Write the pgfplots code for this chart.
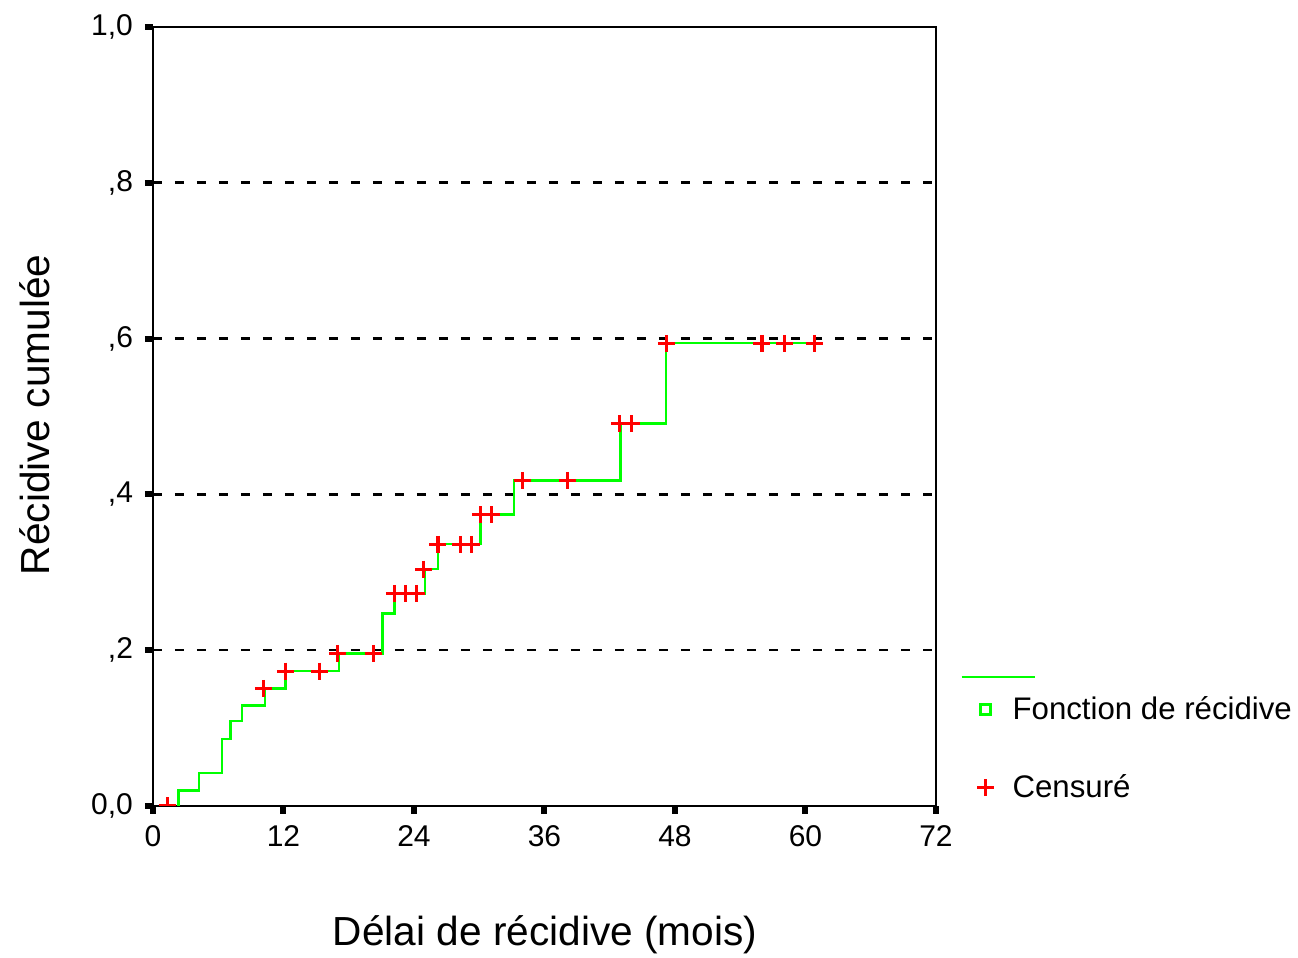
\documentclass[border=0pt]{standalone}
\usepackage{fontspec}
\setmainfont{Liberation Sans}
\usepackage{pgfplots}
\pgfplotsset{compat=1.18}
\definecolor{sgreen}{RGB}{0,255,0}
\definecolor{sred}{RGB}{255,0,0}
\begin{document}
\begin{tikzpicture}
\useasboundingbox (-76.5pt,-76pt) rectangle (572.5pt,403pt);
\begin{axis}[
 scale only axis, width=391.5pt, height=389.5pt,
 xmin=0, xmax=72, ymin=0, ymax=1,
 xtick={0,12,24,36,48,60,72}, xticklabels={0,12,24,36,48,60,72},
 ytick={0,0.2,0.4,0.6,0.8,1}, yticklabels={{0,0},{,2},{,4},{,6},{,8},{1,0}},
 tick pos=left, tick align=outside, major tick length=4pt,
 every tick/.style={black, line width=3pt},
 ymajorgrids, major grid style={black, line width=1.3pt, dash pattern=on 4.5pt off 6.5pt},
 axis line style={line width=1.1pt},
 tick label style={font=\fontsize{15}{17}\selectfont},
 yticklabel style={xshift=-2.5pt},
 xticklabel style={yshift=-2pt},
 label style={font=\fontsize{20.3}{24}\selectfont},
 xlabel={Délai de récidive (mois)}, ylabel={Récidive cumulée},
 xlabel style={at={(axis description cs:0.5006,-0.1656)}, anchor=center},
 ylabel style={at={(axis description cs:-0.1507,0.502)}, anchor=center},
 clip marker paths=true,
 legend cell align=left,
 legend style={draw=none, fill=none, at={(axis description cs:1.0418,0.151)}, anchor=north west,
   font=\fontsize{15.6}{18}\selectfont, row sep=22pt},
]
\addplot[sgreen, line width=1.2pt, const plot,
  legend image code/.code={
    \path[draw=none, fill=none] (-2pt,-5pt) rectangle (14.75pt,5pt);
    \draw[sgreen, line width=1.5pt] (0.75pt,-2.5pt) rectangle (5.75pt,2.5pt);
    \draw[overlay, sgreen, line width=1.2pt] (-8.75pt,16.5pt) -- (27.75pt,16.5pt);
  }] coordinates {
 (2.33,0) (2.33,0.020) (4.23,0.042) (6.35,0.086) (7.11,0.109) (8.18,0.129)
 (10.3,0.151) (12.17,0.173) (17.1,0.196) (21.1,0.247) (22.2,0.273) (25.0,0.304)
 (26.2,0.336) (30.1,0.374) (33.2,0.418) (43.0,0.491) (47.2,0.594) (60.8,0.594)};
\addlegendentry{Fonction de récidive}
\addplot[only marks, mark=+, mark size=4.25pt, sred, mark options={line width=1.6pt},
  legend image code/.code={
    \path[draw=none, fill=none] (-2pt,-5pt) rectangle (14.75pt,5pt);
    \draw[sred, line width=1.4pt] (3.25pt,-4.25pt) -- (3.25pt,4.25pt) (-1pt,0pt) -- (7.5pt,0pt);
  }] coordinates {
 (1.3,0) (10.15,0.151) (12.17,0.173) (15.3,0.173) (17.0,0.196) (20.3,0.196)
 (22.2,0.273) (23.2,0.273) (24.2,0.273) (24.9,0.304) (26.2,0.336) (28.3,0.336)
 (29.3,0.336) (30.1,0.374) (31.1,0.374) (34.0,0.418) (38.1,0.418) (42.9,0.491)
 (44.0,0.491) (47.2,0.594) (56.0,0.594) (58.1,0.594) (60.8,0.594)};
\addlegendentry{Censuré}
\end{axis}
\end{tikzpicture}
\end{document}
